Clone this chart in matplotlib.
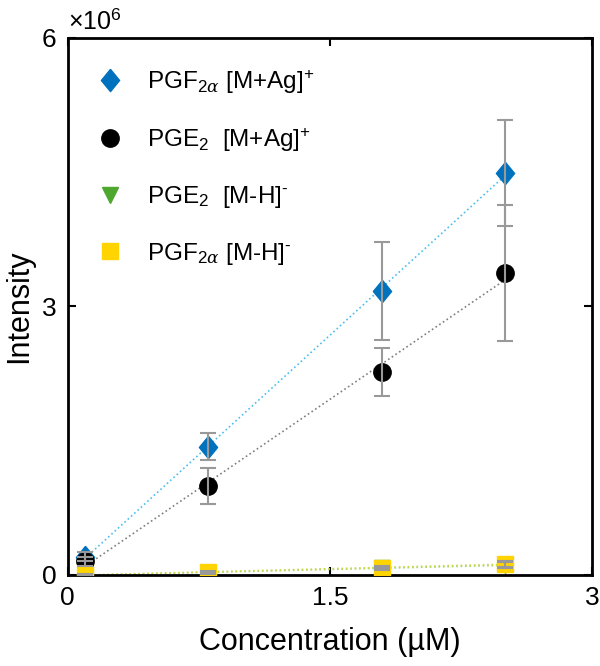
import numpy as np
import matplotlib
matplotlib.use('Agg')
import matplotlib.pyplot as plt

plt.rcParams['font.family'] = ['Liberation Sans', 'DejaVu Sans']
plt.rcParams['mathtext.fontset'] = 'custom'
plt.rcParams['mathtext.rm'] = 'Liberation Sans'
plt.rcParams['mathtext.it'] = 'DejaVu Serif:italic'

# data (x in uM, y in units of 1e6)
conc = [0.1, 0.8, 1.8, 2.5]

pgf_ag = [0.20, 1.43, 3.17, 4.49]
pgf_ag_err = [0.05, 0.15, 0.55, 0.59]

pge_ag = [0.15, 0.99, 2.27, 3.37]
pge_ag_err = [0.05, 0.20, 0.27, 0.76]

pge_mh = [0.00, 0.02, 0.07, 0.11]
pge_mh_err = [0.01, 0.01, 0.02, 0.03]

pgf_mh = [0.00, 0.03, 0.08, 0.12]
pgf_mh_err = [0.01, 0.01, 0.02, 0.03]

labels = [r'PGF$_{2\alpha}$ [M+Ag]$^{+}$',
          r'PGE$_{2}$  [M+Ag]$^{+}$',
          r'PGE$_{2}$  [M-H]$^{\text{-}}$',
          r'PGF$_{2\alpha}$ [M-H]$^{\text{-}}$']

diamond = [(0, 1), (0.82, 0), (0, -1), (-0.82, 0), (0, 1)]

fig = plt.figure(figsize=(6, 6.66), dpi=100)
ax = fig.add_axes([0.113, 0.137, 0.874, 0.806])

x = np.array(conc)
xf = np.array([conc[0], conc[-1]])
series = [
    (pgf_ag, pgf_ag_err, diamond, 16, '#0072BD', '#4DBEEE'),
    (pge_ag, pge_ag_err, 'o', 12.5, '#000000', '#7f7f7f'),
    (pge_mh, pge_mh_err, 'v', 12, '#4EA72E', '#A6D36A'),
    (pgf_mh, pgf_mh_err, 's', 11, '#FFD400', '#C8D84A'),
]

handles = []
for i, (y, e, m, ms, c, lc) in enumerate(series):
    y = np.array(y) * 1e6
    e = np.array(e) * 1e6
    p = np.polyfit(x, y, 1)
    ax.plot(xf, np.polyval(p, xf), ls=':', color=lc, lw=1.2, zorder=2)
    h, = ax.plot(x, y, ls='none', marker=m, ms=ms, color=c, mec=c, zorder=3 + i * 0.1)
    ax.errorbar(x, y, yerr=e, fmt='none', ecolor='#999999', elinewidth=1.5,
                capsize=6, capthick=1.5, zorder=4)
    handles.append(h)

ax.set_xlim(0, 3)
ax.set_ylim(0, 6e6)
ax.set_xticks([0, 1.5, 3])
ax.set_xticklabels(['0', '1.5', '3'])
ax.set_yticks([0, 3e6, 6e6])
ax.set_yticklabels(['0', '3', '6'])
ax.tick_params(direction='in', length=6, width=1.5, labelsize=19,
               top=True, right=True, pad=8)
for s in ax.spines.values():
    s.set_linewidth(2)

ax.text(0.0, 1.005, r'$\times$10$^{6}$', transform=ax.transAxes,
        fontsize=18, ha='left', va='bottom')

ax.set_xlabel('Concentration (µM)', fontsize=22, labelpad=12)
ax.set_ylabel('Intensity', fontsize=22, labelpad=6)

ax.legend(handles, labels, loc='upper left', frameon=False, fontsize=17.5,
          labelspacing=1.25, handletextpad=0.55, borderaxespad=0.6,
          bbox_to_anchor=(-0.013, 0.99))

fig.savefig('out.png', dpi=100)
